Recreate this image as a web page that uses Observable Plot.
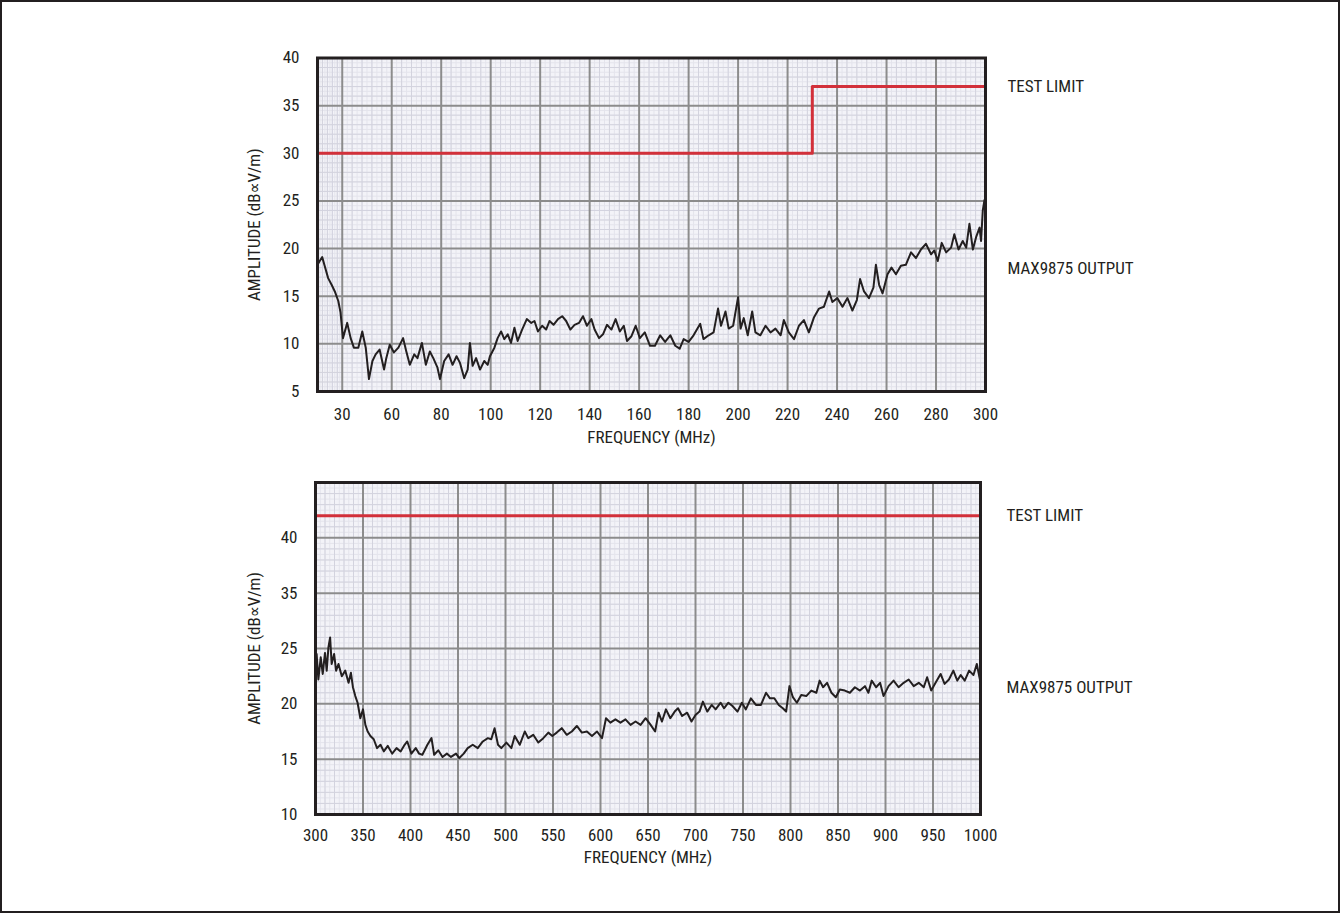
<!DOCTYPE html>
<html>
<head>
<meta charset="utf-8">
<script src="https://cdn.jsdelivr.net/npm/d3@7"></script>
<script src="https://cdn.jsdelivr.net/npm/@observablehq/plot@0.6"></script>
<style>
  html, body { margin: 0; padding: 0; background: #fff; }
  #page { position: relative; width: 1340px; height: 913px; overflow: hidden; background: #fff; }
  #border { position: absolute; left: 0; top: 0; width: 1340px; height: 913px; box-sizing: border-box; border: 2px solid #231f20; pointer-events: none; }
  .panel { position: absolute; left: 0; }
</style>
</head>
<body>
<div id="page">
  <div id="top" class="panel" style="top:0px"></div>
  <div id="bottom" class="panel" style="top:460px"></div>
  <div id="border"></div>
</div>
<script>
// ---------------- DATA ----------------
// Top panel: 30 MHz – 300 MHz
const topFreq = [30.0,30.9,31.9,33.0,34.3,35.7,37.0,38.4,39.3,40.3,42.0,43.4,44.7,46.5,48.1,49.5,50.8,52.2,53.5,55.1,56.9,57.8,59.2,60.9,62.7,64.6,65.9,67.3,69.1,70.4,72.2,73.8,75.4,76.8,78.5,79.5,81.2,83.0,84.6,86.2,87.6,89.3,90.7,91.6,92.7,94.1,95.7,97.4,98.8,99.7,101.5,102.8,104.2,105.5,106.9,108.2,109.6,110.9,112.7,114.6,116.4,117.7,119.1,120.8,122.4,123.8,125.4,127.2,128.9,130.5,132.2,133.9,135.7,137.3,138.9,140.7,142.0,143.8,145.4,147.0,148.8,150.5,152.2,153.8,155.1,156.9,158.6,160.3,162.3,164.4,166.4,168.5,170.5,172.6,174.6,176.4,178.0,180.0,182.0,184.7,186.0,188.1,190.1,191.9,193.1,194.9,196.2,198.0,200.0,201.0,202.3,203.9,205.7,207.0,209.0,211.1,213.1,215.1,217.2,218.5,220.5,222.6,224.6,226.6,228.6,230.7,232.7,234.7,236.8,238.1,240.1,242.2,244.2,246.2,248.0,249.3,250.9,252.9,254.7,255.7,257.0,258.4,260.4,262.0,263.8,265.8,267.8,269.9,271.9,273.9,275.9,278.0,279.3,280.7,282.3,284.1,286.1,287.4,289.1,290.8,292.2,293.5,294.9,296.2,297.6,298.2,298.9,299.6];
const topAmp = [18.3,18.7,19.1,18.1,16.9,16.2,15.5,14.5,13.3,10.6,12.2,10.6,9.6,9.6,11.3,9.6,6.3,8.2,8.9,9.4,7.3,8.5,9.9,9.1,9.6,10.6,9.2,7.8,8.9,8.5,10.1,7.8,9.2,8.5,7.5,6.3,8.2,8.9,7.8,8.7,8.0,6.4,7.3,10.1,7.7,8.5,7.3,8.2,7.8,8.7,9.6,10.6,11.3,10.5,11.0,10.1,11.7,10.3,11.5,12.6,12.2,12.4,11.3,11.9,11.5,12.4,12.0,12.6,12.9,12.4,11.5,12.0,12.2,12.9,11.9,12.6,11.5,10.6,11.0,12.0,11.5,12.6,11.3,11.9,10.3,10.8,11.9,10.6,11.2,9.8,9.8,10.9,10.2,10.9,9.8,9.5,10.5,10.2,10.9,12.1,10.5,10.9,11.2,13.7,11.9,13.4,11.6,11.9,14.9,11.6,12.7,10.9,13.4,11.2,10.9,11.9,11.2,11.6,10.9,12.5,11.2,10.5,11.9,12.5,11.2,12.8,13.7,13.9,15.5,14.4,14.8,13.9,14.8,13.5,14.6,16.8,15.5,14.8,15.9,18.3,16.2,15.3,17.3,18.0,17.3,18.2,18.3,19.6,19.0,19.9,20.5,19.4,19.8,18.7,20.6,19.6,20.1,21.5,19.9,20.8,20.1,22.6,19.9,21.2,22.2,20.8,24.0,25.1];
const topLimitFreq = [30, 230, 300];
const topLimitAmp = [30, 37, 37];
const topXTicks = [40, 60, 80, 100, 120, 140, 160, 180, 200, 220, 240, 260, 280, 300];
const topXTickLabels = ["30", "60", "80", "100", "120", "140", "160", "180", "200", "220", "240", "260", "280", "300"];
const topYTicks = [5, 10, 15, 20, 25, 30, 35, 40];
const topLabels = ["TEST LIMIT", "MAX9875 OUTPUT"];
const topLabelAmp = [37, 17.9];

// Bottom panel: 300 MHz – 1000 MHz
const botFreq = [300.0,301.2,303.0,305.5,307.6,310.0,311.8,313.6,315.4,317.0,319.6,321.7,324.2,327.7,331.3,334.8,337.3,339.4,341.9,344.3,347.2,350.0,352.5,354.9,357.8,361.3,364.8,368.4,371.9,376.1,380.7,385.3,389.6,393.8,396.6,400.9,405.5,409.0,412.5,417.8,422.1,424.9,429.2,433.7,438.3,442.6,447.9,451.4,456.0,460.2,465.5,470.8,476.1,481.4,485.0,488.5,492.1,495.6,500.9,506.2,509.7,515.0,520.3,523.9,529.2,534.5,539.8,545.1,549.3,553.9,559.2,564.5,569.8,575.1,580.4,585.7,591.0,596.3,601.6,605.8,610.4,615.7,621.0,626.3,631.6,636.9,642.2,647.5,652.8,657.5,661.1,664.7,668.9,673.5,678.1,681.6,685.9,691.2,695.8,700.0,704.2,707.8,712.4,717.0,721.2,726.5,730.0,734.6,738.9,744.2,748.8,753.0,758.3,763.6,768.9,774.2,778.4,783.0,787.6,791.9,795.4,798.9,802.5,806.7,811.3,816.6,821.9,827.2,830.7,834.3,838.5,843.1,847.7,851.9,857.2,862.5,867.8,873.1,878.4,882.0,885.5,890.1,894.3,897.9,903.2,908.5,913.8,919.1,924.4,929.7,935.0,940.3,943.8,948.1,952.7,958.0,962.2,966.8,971.4,975.6,979.2,983.4,988.0,992.6,996.1,999.6];
const botAmp = [23.0,24.5,22.2,24.2,22.7,24.6,23.0,25.2,27.0,23.6,24.5,23.0,23.6,22.5,23.0,21.9,22.8,21.5,20.7,20.1,18.7,19.5,18.1,17.5,17.1,16.8,16.0,16.3,15.7,16.2,15.5,16.0,15.7,16.3,16.6,15.5,16.0,15.5,15.4,16.3,16.9,15.4,15.8,15.2,15.5,15.2,15.5,15.1,15.5,16.0,16.3,16.0,16.6,16.9,16.8,17.8,16.3,16.0,16.5,16.0,17.1,16.3,17.5,16.9,17.2,16.5,16.9,17.4,17.1,17.4,17.8,17.2,17.5,18.0,17.4,17.5,17.1,17.5,16.9,18.7,18.3,18.6,18.3,18.6,18.1,18.4,18.1,18.7,18.1,17.5,19.2,18.4,19.5,18.7,19.3,19.6,18.9,19.2,18.4,19.0,19.3,20.2,19.3,19.9,19.5,20.1,19.6,20.1,19.8,19.3,20.1,19.5,20.5,19.9,19.9,21.0,20.5,20.5,19.9,19.6,19.3,21.6,20.6,20.1,20.8,20.7,21.2,21.0,22.1,21.5,21.9,21.0,20.6,21.3,21.2,21.0,21.5,21.2,21.6,21.0,22.1,21.5,21.9,20.7,21.6,22.1,21.5,21.9,22.2,21.6,21.9,21.5,22.4,21.2,21.9,22.7,21.8,22.2,23.0,22.1,22.6,22.1,23.0,22.6,23.6,22.1];
const botLimitFreq = [300, 1000];
const botLimitAmp = [42, 42];
const botXTicks = [300, 350, 400, 450, 500, 550, 600, 650, 700, 750, 800, 850, 900, 950, 1000];
const botYTicks = [10, 15, 20, 25, 35, 40];   // tick labels as printed on the original axis
const botYCells = [10, 15, 20, 25, 35, 40, 45]; // grid rows (equal height on the page)
const botLabels = ["TEST LIMIT", "MAX9875 OUTPUT"];
const botLabelAmp = [42, 21.5];

const xTitle = "FREQUENCY (MHz)";
const yTitle = "AMPLITUDE (dB\u221DV/m)";

// ---------------- STYLE ----------------
const FONT = "'Roboto Condensed', 'Liberation Sans Narrow', 'Arial Narrow', 'DejaVu Sans Condensed', sans-serif";
const INK = "#231f20";
const BG = "#f3f3f8";
const MAJOR = "#8c8c8c";
const MINOR = "#d3d3de";
const FINE = "#e4e4ec";
const RED = "#d2303a";

const toRows = (xs, ys) => xs.map((x, i) => ({x, y: ys[i]}));
const subdivide = (cells, n) => {
  const out = [];
  for (let i = 0; i < cells.length - 1; i++)
    for (let k = 1; k < n; k++) out.push(cells[i] + (cells[i + 1] - cells[i]) * k / n);
  return out;
};

function panel({width, height, mt, mr, mb, ml, x, y, xTicks, xFmt, yTicks, xCells, yCells,
                limit, trace, labels, labelAmp, labelDx, xMax, tickPadX, titleDy, yTitleDx}) {
  const minorX = subdivide(xCells, 5), fineX = subdivide(xCells, 10);
  const minorY = subdivide(yCells, 5), fineY = subdivide(yCells, 10);
  return Plot.plot({
    width, height,
    marginTop: mt, marginRight: mr, marginBottom: mb, marginLeft: ml,
    x: {...x, label: null},
    y: {...y, label: null},
    style: {fontFamily: FONT, color: INK, background: "transparent", overflow: "visible"},
    marks: [
      Plot.frame({fill: BG, stroke: null}),
      Plot.ruleX(fineX, {stroke: FINE, strokeWidth: 1}),
      Plot.ruleY(fineY, {stroke: FINE, strokeWidth: 1}),
      Plot.ruleX(minorX, {stroke: MINOR, strokeWidth: 1}),
      Plot.ruleY(minorY, {stroke: MINOR, strokeWidth: 1}),
      Plot.ruleX(xCells, {stroke: MAJOR, strokeWidth: 2}),
      Plot.ruleY(yCells, {stroke: MAJOR, strokeWidth: 2}),
      Plot.line(limit, {x: "x", y: "y", stroke: RED, strokeWidth: 3, curve: "step-after"}),
      Plot.line(trace, {x: "x", y: "y", stroke: INK, strokeWidth: 2, strokeLinejoin: "round"}),
      Plot.frame({stroke: INK, strokeWidth: 3}),
      Plot.axisX(xTicks, {tickSize: 0, tickPadding: tickPadX, fontSize: 17, tickFormat: xFmt, label: null, fill: INK}),
      Plot.axisY(yTicks, {tickSize: 0, tickPadding: 18, fontSize: 17, label: null, fill: INK}),
      Plot.text([xTitle], {frameAnchor: "bottom", dy: titleDy, lineAnchor: "middle", fontSize: 17, fill: INK}),
      Plot.text([yTitle], {frameAnchor: "left", dx: yTitleDx, rotate: -90, textAnchor: "middle", lineAnchor: "middle", fontSize: 17, fill: INK}),
      Plot.text(labels, {x: () => xMax, y: (d, i) => labelAmp[i], text: d => d, dx: labelDx, textAnchor: "start", lineAnchor: "middle", fontSize: 17, fill: INK})
    ]
  });
}

// ---------------- TOP ----------------
{
  const H = 460, mt = 57.5, mb = H - 391, ml = 317, mr = 1340 - 985;
  const svg = panel({
    width: 1340, height: H, mt, mr, mb, ml,
    x: {type: "linear", domain: [30, 300]},
    y: {type: "linear", domain: [5, 40]},
    xTicks: topXTicks,
    xFmt: d => topXTickLabels[topXTicks.indexOf(d)],
    yTicks: topYTicks,
    xCells: [30, ...topXTicks],
    yCells: topYTicks,
    limit: toRows(topLimitFreq, topLimitAmp),
    trace: toRows(topFreq, topAmp),
    labels: topLabels, labelAmp: topLabelAmp, labelDx: 22, xMax: 300,
    tickPadX: 16, titleDy: 46, yTitleDx: -63
  });
  document.getElementById("top").appendChild(svg);
}

// ---------------- BOTTOM ----------------
{
  const H = 453, mt = 22, mb = H - (814 - 460), ml = 315, mr = 1340 - 980;
  const y0 = H - mb, step = (y0 - mt) / (botYCells.length - 1);
  // equal-height rows for the printed tick values (the original skips "30")
  const yRange = botYCells.map((_, i) => y0 - i * step);
  const svg = panel({
    width: 1340, height: H, mt, mr, mb, ml,
    x: {type: "linear", domain: [300, 1000]},
    y: {type: "linear", domain: botYCells, range: yRange},
    xTicks: botXTicks,
    xFmt: d => String(d),
    yTicks: botYTicks,
    xCells: botXTicks,
    yCells: botYCells,
    limit: toRows(botLimitFreq, botLimitAmp),
    trace: toRows(botFreq, botAmp),
    labels: botLabels, labelAmp: botLabelAmp, labelDx: 26, xMax: 1000,
    tickPadX: 14, titleDy: 43, yTitleDx: -61
  });
  document.getElementById("bottom").appendChild(svg);
}
</script>
</body>
</html>
